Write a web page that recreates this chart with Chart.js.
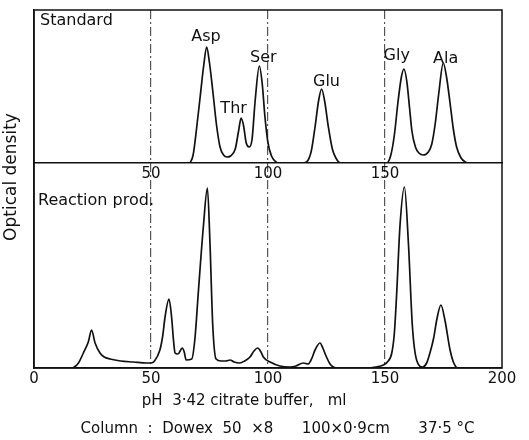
<!DOCTYPE html>
<html><head><meta charset="utf-8">
<script src="https://cdn.jsdelivr.net/npm/chart.js@4/dist/chart.umd.min.js"></script>
<style>html,body{margin:0;padding:0;background:#fff}#wrap{width:529px;height:440px;position:relative}</style>
</head><body><div id="wrap"><canvas id="c"></canvas></div>
<script>
// Top panel: Standard amino-acid mixture (volume ml, optical density arbitrary units)
const standardVolume = [66.7,68,69.5,71,72.5,73.8,75,76.5,78,79.5,81,82.5,84,86,87.5,88.5,89.5,90.7,92,93.2,94.5,96.3,97.5,98.7,100,101.5,103,104.5,115,116.5,118.5,120.1,121.6,122.9,124.2,125.8,127.5,129,131,150.7,152.5,154,155.5,157,158.1,159.3,160.5,161.5,163,164.5,166.4,168.5,170,171.5,173,174.9,176.3,177.8,179.2,180.6,182.5,185];
const standardDensity = [0,8,35,66,97,116,100,70,38,16,8,6,7,14,33,45,38,20,16,24,62,97,80,46,20,7,2,0,0,1,12,36,62,74,62,36,14,5,0,0,8,28,60,86,94,82,55,32,16,10,8,11,19,40,70,100,86,60,34,16,5,0];
// Bottom panel: Reaction product
const reactionVolume = [16.8,19,21.1,23.2,24.6,26.1,28.2,30,32.5,37,42.5,48.2,50,51.5,53.8,55,56,57.7,58.8,59.6,60.3,61.5,63.4,64.2,65,67.4,68.8,70.2,72.4,74.1,75.2,76.4,77.8,80,82,83.8,85.5,88,90,92.3,94,95.6,97,98,100.9,105.1,109.4,112,115.1,117.2,118.8,120.1,122.2,123.6,125,126.5,127.9,130,142.2,146,149.3,151,152.9,154,155,156.4,158.3,160,161.7,163.5,166.1,167.8,169.2,170.8,172.1,173.9,175.6,177.8,179.2,180.6];
const reactionDensity = [0,5,15,26,38,25,15,11,9,7,6,5,5,7,18,32,51,69,51,28,15,14,20,16,8,9,30,75,142,180,125,42,9,7,7,8,6,5,7,11,17,20,16,11,6,2,1,2,5,4,10,18,25,19,11,4,1,0,0,1,3,6,15,35,75,142,181,125,42,8,1,5,15,30,48,63,48,18,6,0];
const xTicks = [0,50,100,150,200];
const innerTicks = [50,100,150];
const peakNames = ['Asp','Thr','Ser','Glu','Gly','Ala'];
const peakNameVolume = [73.5,85.3,98,125,155,175.9];
const peakNameDensity = [126,54,105,81.5,107,104];
const panelTitles = ['Standard','Reaction prod.'];
const yTitle = 'Optical density';
const xTitle = ['pH  3\u00b742 citrate buffer,   ml          ', '    Column  :  Dowex  50  \u00d78      100\u00d70\u00b79cm      37\u00b75 \u00b0C'];

const FONT = "'DejaVu Sans', sans-serif";
const INK = '#111';

const toPoints = (xs, ys) => xs.map((x, i) => ({x, y: ys[i]}));

const decor = {
  id: 'decor',
  afterDatasetsDraw(chart) {
    const {ctx, chartArea: a, scales} = chart;
    ctx.save();
    ctx.strokeStyle = INK; ctx.lineWidth = 1.5;
    ctx.strokeRect(a.left, a.top, a.right - a.left, a.bottom - a.top);
    ctx.fillStyle = INK;
    ctx.font = '16px ' + FONT;
    ctx.textAlign = 'center'; ctx.textBaseline = 'middle';
    peakNames.forEach((n, i) => {
      ctx.fillText(n, scales.x.getPixelForValue(peakNameVolume[i]), scales.y1.getPixelForValue(peakNameDensity[i]));
    });
    ctx.textAlign = 'left';
    ctx.fillText(panelTitles[0], a.left + 6, scales.y1.getPixelForValue(142));
    ctx.fillText(panelTitles[1], a.left + 4, scales.y2.getPixelForValue(167));
    ctx.translate(12, 177);
    ctx.rotate(-Math.PI / 2);
    ctx.textAlign = 'center';
    ctx.font = '17px ' + FONT;
    ctx.fillText(yTitle, 0, 0);
    ctx.restore();
  }
};

new Chart(document.getElementById('c'), {
  type: 'line',
  data: {
    datasets: [
      {label: panelTitles[0], data: toPoints(standardVolume, standardDensity), xAxisID: 'x', yAxisID: 'y1'},
      {label: panelTitles[1], data: toPoints(reactionVolume, reactionDensity), xAxisID: 'x', yAxisID: 'y2'}
    ]
  },
  options: {
    responsive: true, maintainAspectRatio: false, animation: false,
    layout: {padding: {top: 10, right: 27, left: 0, bottom: 0}},
    elements: {
      line: {borderColor: INK, borderWidth: 1.7, cubicInterpolationMode: 'monotone', fill: false},
      point: {radius: 0}
    },
    plugins: {legend: {display: false}, tooltip: {enabled: false}},
    scales: {
      x: {
        type: 'linear', position: 'bottom', min: 0, max: 200,
        afterBuildTicks: s => { s.ticks = xTicks.map(v => ({value: v})); },
        afterFit: s => { s.height = 72; },
        ticks: {color: INK, font: {family: FONT, size: 15}, padding: 2, maxRotation: 0},
        grid: {drawTicks: false, lineWidth: 1.2,
          color: c => (c.tick && (c.tick.value === 0 || c.tick.value === 200)) ? 'rgba(0,0,0,0)' : '#555'},
        border: {display: true, color: INK, width: 1.5, dash: [9, 3, 2, 3]},
        title: {display: true, text: xTitle, color: INK, font: {family: FONT, size: 15, lineHeight: 1.85}, padding: {top: 0, bottom: -3}}
      },
      x2: {
        type: 'linear', position: {y2: 205}, min: 0, max: 200,
        afterBuildTicks: s => { s.ticks = innerTicks.map(v => ({value: v})); },
        ticks: {color: INK, font: {family: FONT, size: 15}, padding: 2, maxRotation: 0},
        grid: {drawOnChartArea: false, drawTicks: false},
        border: {display: true, color: INK, width: 1.5}
      },
      y2: {
        type: 'linear', position: 'left', stack: 'panels', stackWeight: 205, min: 0, max: 205,
        afterFit: s => { s.width = 34; },
        ticks: {display: false}, grid: {display: false},
        border: {display: true, color: INK, width: 1.5}
      },
      y1: {
        type: 'linear', position: 'left', stack: 'panels', stackWeight: 153, min: 0, max: 153,
        afterFit: s => { s.width = 34; },
        ticks: {display: false}, grid: {display: false},
        border: {display: true, color: INK, width: 1.5}
      }
    }
  },
  plugins: [decor]
});
</script></body></html>
